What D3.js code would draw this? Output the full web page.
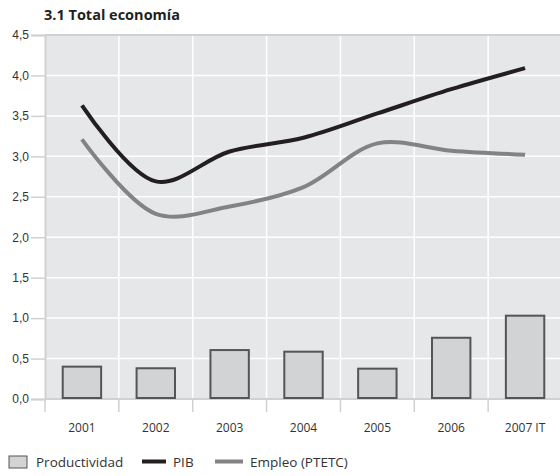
<!DOCTYPE html>
<html>
<head>
<meta charset="utf-8">
<script src="https://cdn.jsdelivr.net/npm/d3@7"></script>
<style>
  body { margin: 0; background: #fff; }
  svg { display: block; font-family: "Open Sans", sans-serif; }
</style>
</head>
<body>
<script>
// values
const years = ['2001', '2002', '2003', '2004', '2005', '2006', '2007 IT'];
const productividad = [0.40, 0.38, 0.605, 0.585, 0.375, 0.757, 1.03];
const pib = [3.63, 2.69, 3.06, 3.23, 3.53, 3.83, 4.09];
const empleo = [3.21, 2.29, 2.38, 2.62, 3.16, 3.07, 3.02];
const yTicks = [0, 0.5, 1, 1.5, 2, 2.5, 3, 3.5, 4, 4.5];

const width = 560, height = 476;
const margin = { top: 35, right: -2, bottom: 77, left: 45 };

const svg = d3.select('body').append('svg')
  .attr('width', width)
  .attr('height', height);

const x = d3.scaleBand()
  .domain(years)
  .range([margin.left, width - margin.right])
  .paddingInner(0)
  .paddingOuter(0);

const y = d3.scaleLinear()
  .domain([0, 4.5])
  .range([height - margin.bottom, margin.top]);

const fmt = d => d.toFixed(1).replace('.', ',');

// plot background
svg.append('rect')
  .attr('x', margin.left)
  .attr('y', margin.top)
  .attr('width', width - margin.left)
  .attr('height', y(0) - margin.top)
  .attr('fill', '#e6e7e9');

// grid lines (white)
svg.append('g')
  .selectAll('line')
  .data(yTicks.filter(d => d > 0 && d < 4.5))
  .join('line')
    .attr('x1', margin.left).attr('x2', width)
    .attr('y1', d => y(d)).attr('y2', d => y(d))
    .attr('stroke', '#fff').attr('stroke-width', 1.5);

svg.append('g')
  .selectAll('line')
  .data(years.slice(1))
  .join('line')
    .attr('x1', d => x(d)).attr('x2', d => x(d))
    .attr('y1', margin.top).attr('y2', y(0))
    .attr('stroke', '#fff').attr('stroke-width', 1.5);

// top border
svg.append('line')
  .attr('x1', margin.left).attr('x2', width)
  .attr('y1', y(4.5)).attr('y2', y(4.5))
  .attr('stroke', '#d0d1d3').attr('stroke-width', 2);

// y axis
svg.append('g')
  .attr('transform', `translate(${margin.left},0)`)
  .call(d3.axisLeft(y).tickValues(yTicks).tickFormat(fmt).tickSize(14).tickPadding(2))
  .call(g => g.select('.domain').attr('stroke', '#d0d1d3').attr('stroke-width', 2))
  .call(g => g.selectAll('.tick line').attr('stroke', '#d0d1d3').attr('stroke-width', 1.5))
  .call(g => g.selectAll('.tick text').attr('fill', '#333').attr('font-size', 12));

// x axis (ticks at category boundaries)
svg.append('g')
  .attr('transform', `translate(0,${y(0)})`)
  .call(g => g.append('line')
    .attr('x1', margin.left).attr('x2', width)
    .attr('stroke', '#d0d1d3').attr('stroke-width', 2))
  .call(g => g.selectAll('line.bt')
    .data(years)
    .join('line')
      .attr('class', 'bt')
      .attr('x1', d => x(d)).attr('x2', d => x(d))
      .attr('y1', 0).attr('y2', 13)
      .attr('stroke', '#d0d1d3').attr('stroke-width', 1.5))
  .call(g => g.selectAll('text')
    .data(years)
    .join('text')
      .attr('x', d => x(d) + x.bandwidth() / 2)
      .attr('y', 33)
      .attr('text-anchor', 'middle')
      .attr('font-size', 12)
      .attr('fill', '#333')
      .text(d => d));

// bars
const barW = x.bandwidth() * 0.52;
svg.append('g')
  .selectAll('rect')
  .data(productividad)
  .join('rect')
    .attr('x', (d, i) => x(years[i]) + (x.bandwidth() - barW) / 2)
    .attr('y', d => y(d))
    .attr('width', barW)
    .attr('height', d => y(0) - y(d) - 1)
    .attr('fill', '#d2d3d5')
    .attr('stroke', '#555')
    .attr('stroke-width', 2);

// lines
const line = d3.line()
  .x((d, i) => x(years[i]) + x.bandwidth() / 2)
  .y(d => y(d))
  .curve(d3.curveCatmullRom.alpha(0.5));

svg.append('path')
  .datum(empleo)
  .attr('fill', 'none')
  .attr('stroke', '#838383')
  .attr('stroke-width', 4)
  .attr('d', line);

svg.append('path')
  .datum(pib)
  .attr('fill', 'none')
  .attr('stroke', '#231f20')
  .attr('stroke-width', 4)
  .attr('d', line);

// title
svg.append('text')
  .attr('x', margin.left - 1)
  .attr('y', 20)
  .attr('font-size', 14.5)
  .attr('font-weight', 700)
  .attr('fill', '#231f20')
  .text('3.1 Total economía');

// legend
const lg = svg.append('g').attr('font-size', 13.5).attr('fill', '#333');
lg.append('rect')
  .attr('x', 9).attr('y', 456).attr('width', 18).attr('height', 12)
  .attr('fill', '#d2d3d5').attr('stroke', '#555').attr('stroke-width', 1);
lg.append('text').attr('x', 36).attr('y', 466.5).text('Productividad');
lg.append('line')
  .attr('x1', 142).attr('x2', 166).attr('y1', 461.5).attr('y2', 461.5)
  .attr('stroke', '#231f20').attr('stroke-width', 4);
lg.append('text').attr('x', 173).attr('y', 466.5).text('PIB');
lg.append('line')
  .attr('x1', 215).attr('x2', 243).attr('y1', 461.5).attr('y2', 461.5)
  .attr('stroke', '#838383').attr('stroke-width', 4);
lg.append('text').attr('x', 250).attr('y', 466.5).text('Empleo (PTETC)');
</script>
</body>
</html>
